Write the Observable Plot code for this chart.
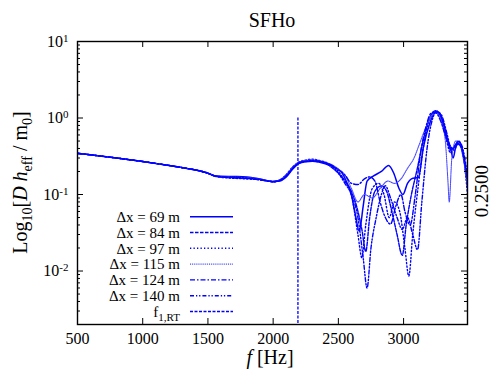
<!DOCTYPE html>
<html><head><meta charset="utf-8">
<script src="https://cdn.jsdelivr.net/npm/d3@7"></script>
<script src="https://cdn.jsdelivr.net/npm/@observablehq/plot@0.6"></script>
<style>body{margin:0;background:#fff} svg, svg text{font-family:"Liberation Serif", serif !important}</style>
</head><body><div id="chart"></div>
<script>
// ---- data ----
const title = "SFHo";
const xTicks = [500, 1000, 1500, 2000, 2500, 3000];
const yMajor = [10, 1, 0.1, 0.01];
const yMinor = [2,3,4,5,6,7,8,9, 0.2,0.3,0.4,0.5,0.6,0.7,0.8,0.9, 0.02,0.03,0.04,0.05,0.06,0.07,0.08,0.09, 0.002,0.003,0.004,0.005,0.006,0.007,0.008,0.009];
const f1RT = 2190;

// shared low-frequency part (all resolutions coincide)
const lowFreq = [500, 600, 700, 800, 900, 1000, 1100, 1200, 1300, 1400, 1500];
const lowVal  = [0.345, 0.33, 0.315, 0.30, 0.285, 0.27, 0.255, 0.24, 0.225, 0.21, 0.19];

const f69 = [1550,1600,1700,1800,1900,1950,2000,2050,2100,2150,2200,2250,2300,2350,2400,2450,2520,2560,2600,2630,2660,2690,2720,2770,2830,2885,2925,2965,2995,3030,3060,3115,3150,3200,3250,3290,3330,3360,3380,3400,3425,3455,3490];
const v69 = [0.176,0.173,0.172,0.17,0.16,0.153,0.148,0.15,0.17,0.215,0.255,0.268,0.272,0.266,0.252,0.235,0.2,0.15,0.098,0.055,0.033,0.07,0.15,0.175,0.2,0.24,0.19,0.12,0.1,0.14,0.16,0.168,0.4,0.85,1.22,1.0,0.55,0.4,0.3,0.42,0.48,0.35,0.13];

const f84 = [1550,1600,1700,1800,1900,1950,2000,2050,2100,2150,2200,2250,2300,2350,2400,2450,2500,2550,2600,2640,2680,2710,2740,2780,2830,2870,2910,2950,2990,3020,3060,3100,3150,3200,3245,3290,3330,3360,3390,3420,3450,3490];
const v84 = [0.175,0.17,0.166,0.163,0.157,0.152,0.147,0.153,0.178,0.225,0.262,0.275,0.278,0.272,0.258,0.225,0.19,0.15,0.11,0.07,0.035,0.018,0.05,0.11,0.13,0.11,0.06,0.03,0.016,0.04,0.1,0.2,0.5,1.0,1.25,1.05,0.6,0.38,0.42,0.5,0.38,0.15];

const f97 = [1550,1600,1700,1800,1900,1950,2000,2050,2100,2150,2200,2250,2300,2350,2400,2450,2500,2550,2600,2650,2680,2710,2760,2810,2850,2890,2930,2970,3010,3040,3070,3110,3160,3210,3250,3290,3330,3360,3400,3430,3460,3490];
const v97 = [0.174,0.168,0.163,0.16,0.155,0.15,0.146,0.155,0.182,0.23,0.268,0.282,0.29,0.28,0.265,0.24,0.2,0.15,0.1,0.03,0.015,0.04,0.12,0.14,0.1,0.05,0.08,0.06,0.02,0.0086,0.03,0.12,0.5,1.05,1.2,0.95,0.5,0.35,0.45,0.45,0.3,0.1];

const f115 = [1550,1600,1700,1800,1900,1950,2000,2050,2100,2150,2200,2250,2300,2350,2400,2450,2500,2550,2600,2650,2700,2760,2820,2880,2930,2980,3030,3080,3120,3170,3220,3255,3290,3320,3340,3350,3370,3400,3430,3460,3490];
const v115 = [0.176,0.17,0.168,0.166,0.158,0.152,0.149,0.156,0.18,0.228,0.265,0.278,0.284,0.278,0.262,0.245,0.215,0.18,0.12,0.08,0.1,0.09,0.12,0.15,0.14,0.16,0.22,0.3,0.45,0.75,1.1,1.15,0.9,0.5,0.15,0.08,0.3,0.5,0.45,0.28,0.13];

const f124 = [1550,1600,1700,1800,1900,1950,2000,2050,2100,2150,2200,2250,2300,2350,2400,2450,2500,2550,2600,2650,2700,2740,2780,2820,2860,2900,2940,2980,3010,3050,3090,3130,3170,3210,3240,3280,3320,3350,3380,3410,3440,3470,3490];
const v124 = [0.175,0.171,0.165,0.162,0.156,0.151,0.147,0.151,0.172,0.218,0.258,0.27,0.274,0.268,0.26,0.24,0.21,0.18,0.14,0.135,0.16,0.17,0.15,0.08,0.05,0.041,0.07,0.1,0.06,0.04,0.1,0.35,0.75,1.15,1.2,0.95,0.6,0.45,0.4,0.47,0.42,0.25,0.15];

const f140 = [1550,1600,1700,1800,1900,1950,2000,2050,2100,2150,2200,2250,2300,2350,2400,2450,2500,2550,2600,2650,2690,2720,2750,2790,2830,2860,2900,2950,2990,3030,3070,3107,3140,3180,3220,3255,3290,3330,3360,3390,3420,3450,3490];
const v140 = [0.175,0.169,0.167,0.164,0.157,0.151,0.148,0.154,0.176,0.222,0.26,0.273,0.279,0.274,0.26,0.235,0.19,0.14,0.1,0.05,0.015,0.006,0.02,0.05,0.1,0.13,0.09,0.05,0.035,0.05,0.03,0.019,0.08,0.4,0.95,1.22,1.1,0.65,0.42,0.38,0.5,0.42,0.18];

const seriesNames = ["Δx = 69 m", "Δx = 84 m", "Δx = 97 m", "Δx = 115 m", "Δx = 124 m", "Δx = 140 m"];
const seriesFreq = [f69, f84, f97, f115, f124, f140];
const seriesVal = [v69, v84, v97, v115, v124, v140];

// ---- styles ----
const styles = [
  {stroke:"#0000ff", w:1.5, dash:null},
  {stroke:"#0000ff", w:1.4, dash:"3.5,1.5"},
  {stroke:"#0000ff", w:1.4, dash:"1.3,2.2"},
  {stroke:"#4b4bff", w:1.1, dash:"1,0.9"},
  {stroke:"#0000ff", w:1.4, dash:"5,2,1.5,2"},
  {stroke:"#0000ff", w:1.4, dash:"4,2,1.3,1.8,1.3,2"}
];
const f1Style = {stroke:"#0000ff", w:1.3, dash:"3,1.5"};

const rows = [];
seriesNames.forEach((name, k) => {
  const F = lowFreq.concat(seriesFreq[k]);
  const V = lowVal.concat(seriesVal[k]);
  F.forEach((f, i) => rows.push({name, f, v: V[i]}));
});

const W = 491, H = 377, mL = 77, mR = 24, mT = 41, mB = 53;
const fw = W - mL - mR, fh = H - mT - mB;
const ff = "Liberation Serif, serif";

const plot = Plot.plot({
  width: W, height: H,
  marginLeft: mL, marginRight: mR, marginTop: mT, marginBottom: mB,
  style: {fontFamily: ff, fontSize: "16px", background: "white", color: "black"},
  x: {domain: [500, 3490], label: null},
  y: {type: "log", domain: [0.002, 10], label: null},
  marks: [
    ...seriesNames.map((name, k) => Plot.line(rows.filter(r => r.name === name), {
      x: "f", y: "v", stroke: styles[k].stroke, strokeWidth: styles[k].w,
      strokeDasharray: styles[k].dash, curve: "monotone-x", clip: true
    })),
    Plot.ruleX([f1RT], {x: d => d, y1: 1, y2: 0.002, stroke: f1Style.stroke, strokeWidth: f1Style.w, strokeDasharray: f1Style.dash}),
    Plot.tickX(xTicks, {x: d => d, insetTop: fh - 6, stroke: "black"}),
    Plot.tickX(xTicks, {x: d => d, insetBottom: fh - 6, stroke: "black"}),
    Plot.tickY(yMajor, {y: d => d, insetRight: fw - 6, stroke: "black"}),
    Plot.tickY(yMajor, {y: d => d, insetLeft: fw - 6, stroke: "black"}),
    Plot.tickY(yMinor, {y: d => d, insetRight: fw - 3, stroke: "black"}),
    Plot.tickY(yMinor, {y: d => d, insetLeft: fw - 3, stroke: "black"}),
    Plot.frame({stroke: "black", strokeWidth: 1.4}),
    Plot.axisX(xTicks, {tickSize: 0, tickPadding: 8, fontSize: 16, fontFamily: ff, tickFormat: d => String(d)}),
    Plot.axisY(yMajor, {tickSize: 0, tickPadding: 9, fontSize: 16, fontFamily: ff, tickFormat: d => "10^" + Math.round(Math.log10(d))})
  ]
});

document.getElementById("chart").appendChild(plot);
const svg = d3.select(plot);

// superscript exponents on y tick labels
svg.selectAll('g[aria-label="y-axis tick label"] text').each(function() {
  const t = d3.select(this);
  const s = t.text();
  const exp = s.split("^")[1];
  t.text(null);
  t.append("tspan").text("10");
  t.append("tspan").attr("dy", "-0.45em").attr("font-size", "11px").text(exp);
});

// title
svg.append("text").attr("x", mL + fw / 2).attr("y", 27).attr("text-anchor", "middle")
  .attr("font-family", ff).attr("font-size", 20).attr("fill", "black").text(title);

// x label
const xl = svg.append("text").attr("x", mL + fw / 2 - 2).attr("y", 364).attr("text-anchor", "middle")
  .attr("font-family", ff).attr("font-size", 20).attr("fill", "black");
xl.append("tspan").attr("font-style", "italic").text("f");
xl.append("tspan").text(" [Hz]");

// y label
const yl = svg.append("text").attr("transform", `translate(27,${mT + fh / 2}) rotate(-90)`)
  .attr("text-anchor", "middle").attr("font-family", ff).attr("font-size", 20).attr("fill", "black");
yl.append("tspan").text("Log");
yl.append("tspan").attr("font-size", 14).attr("dy", 5).text("10");
yl.append("tspan").attr("dy", -5).text("[");
yl.append("tspan").attr("font-style", "italic").text("D");
yl.append("tspan").text(" ");
yl.append("tspan").attr("font-style", "italic").text("h");
yl.append("tspan").attr("font-size", 14).attr("dy", 5).text("eff");
yl.append("tspan").attr("dy", -5).text(" / m");
yl.append("tspan").attr("font-size", 14).attr("dy", 5).text("0");
yl.append("tspan").attr("dy", -5).text("]");

// right side label
svg.append("text").attr("transform", `translate(482,191) rotate(-90)`).attr("text-anchor", "middle")
  .attr("dy", "0.33em").attr("font-family", ff).attr("font-size", 19).attr("fill", "black").text("0.2500");

// legend
const legY0 = 216.7, legDy = 15.8, legTx = 180, legL1 = 190, legL2 = 233;
const legendItems = seriesNames.map((n, k) => ({label: n, st: styles[k]})).concat([{label: "f1RT", st: f1Style}]);
const leg = svg.append("g");
legendItems.forEach((it, i) => {
  const y = legY0 + i * legDy;
  const t = leg.append("text").attr("x", legTx).attr("y", y).attr("dy", "0.35em").attr("text-anchor", "end")
    .attr("font-family", ff).attr("font-size", 15).attr("fill", "black");
  if (it.label === "f1RT") {
    t.append("tspan").text("f");
    t.append("tspan").attr("font-size", 11).attr("dy", 4).text("1,RT");
  } else t.text(it.label);
  leg.append("line").attr("x1", legL1).attr("x2", legL2).attr("y1", y).attr("y2", y)
    .attr("stroke", it.st.stroke).attr("stroke-width", it.st.w)
    .attr("stroke-dasharray", it.st.dash);
});
</script></body></html>
